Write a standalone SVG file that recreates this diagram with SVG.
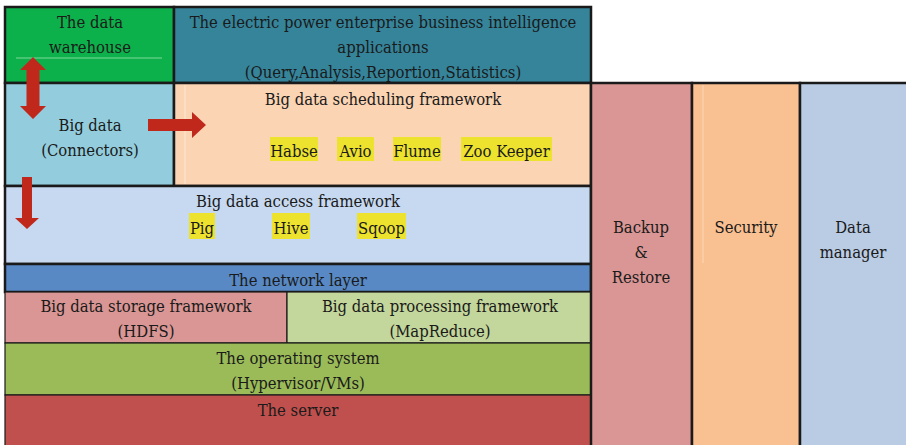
<svg xmlns="http://www.w3.org/2000/svg" width="906" height="445" viewBox="0 0 906 445">
<style>
text{font-size:16.5px;fill:#1a1a1a;text-anchor:middle}
.thick{stroke:#1a1a1a;stroke-width:2.5}
.thin{stroke:#1a1a1a;stroke-width:1.2}
.hl{fill:#ede22e}
.arrow{fill:#c0281c}
</style>
<rect width="906" height="445" fill="#ffffff"/>
<g font-family="DejaVu Serif Condensed, DejaVu Serif, serif" font-stretch="condensed">
<g id="warehouse"><rect x="5" y="7" width="169" height="76" fill="#0db14b" class="thick"/><line x1="16" y1="58" x2="162" y2="58" stroke="#7fd89a" stroke-width="1"/><text x="90" y="28">The data</text><text x="90" y="53">warehouse</text></g>
<g id="bi-apps"><rect x="174" y="7" width="417" height="76" fill="#35849a" class="thick"/><text x="383" y="28">The electric power enterprise business intelligence</text><text x="383" y="53">applications</text><text x="383" y="78">(Query,Analysis,Reportion,Statistics)</text></g>
<g id="connectors"><rect x="5" y="83" width="169" height="103" fill="#93cddd" class="thick"/><text x="90" y="131">Big data</text><text x="90" y="156">(Connectors)</text></g>
<g id="scheduling"><rect x="174" y="83" width="417" height="103" fill="#fbd4b4" class="thick"/><line x1="185" y1="85" x2="185" y2="184" stroke="#fde7d6" stroke-width="1"/><text x="383" y="105">Big data scheduling framework</text>
<rect class="hl" x="270" y="137" width="48" height="24"/><rect class="hl" x="337" y="137" width="37" height="24"/><rect class="hl" x="393" y="137" width="48" height="24"/><rect class="hl" x="461" y="137" width="91" height="24"/>
<text x="294" y="157">Habse</text><text x="355.5" y="157">Avio</text><text x="417" y="157">Flume</text><text x="506.5" y="157">Zoo Keeper</text></g>
<g id="access"><rect x="5" y="186" width="586" height="78" fill="#c6d9f0" class="thick"/><text x="298" y="207">Big data access framework</text>
<rect class="hl" x="189" y="213" width="26" height="26"/><rect class="hl" x="272" y="213" width="38" height="26"/><rect class="hl" x="357" y="213" width="49" height="26"/>
<text x="202" y="234">Pig</text><text x="291" y="234">Hive</text><text x="381.5" y="234">Sqoop</text></g>
<g id="network"><rect x="5" y="264" width="586" height="28" fill="#5889c4" class="thick"/><text x="298" y="286">The network layer</text></g>
<g id="storage"><rect x="5" y="292" width="282" height="51" fill="#d99694" class="thin"/><text x="146" y="312">Big data storage framework</text><text x="146" y="337">(HDFS)</text></g>
<g id="processing"><rect x="287" y="292" width="304" height="51" fill="#c3d69b" class="thin"/><text x="440" y="312">Big data processing framework</text><text x="440" y="337">(MapReduce)</text></g>
<g id="os"><rect x="5" y="343" width="586" height="52" fill="#9bbb59" class="thin"/><text x="298" y="364">The operating system</text><text x="298" y="389">(Hypervisor/VMs)</text></g>
<g id="server"><rect x="5" y="395" width="586" height="52" fill="#c0504d" class="thin"/><text x="298" y="416">The server</text></g>
<g id="backup"><rect x="591" y="83" width="101" height="364" fill="#d99694" class="thick"/><text x="641" y="233">Backup</text><text x="641" y="258">&amp;</text><text x="641" y="283">Restore</text></g>
<g id="security"><rect x="692" y="83" width="108" height="364" fill="#f9c091" class="thick"/><line x1="703" y1="85" x2="703" y2="263" stroke="#fcd7b6" stroke-width="1"/><text x="746" y="233">Security</text></g>
<g id="data-manager"><rect x="800" y="83" width="110" height="364" fill="#b9cce4" class="thick"/><text x="853" y="233">Data</text><text x="853" y="258">manager</text></g>
</g>
<g id="connectors-arrows">
<polygon class="arrow" points="33,57 46,70 39.5,70 39.5,106 46,106 33,119 20,106 26.5,106 26.5,70 20,70"/>
<polygon class="arrow" points="148,119 192,119 192,112 206,125 192,138 192,131 148,131"/>
<polygon class="arrow" points="22,177 32,177 32,218 39,218 27,229 15,218 22,218"/>
</g>
</svg>
